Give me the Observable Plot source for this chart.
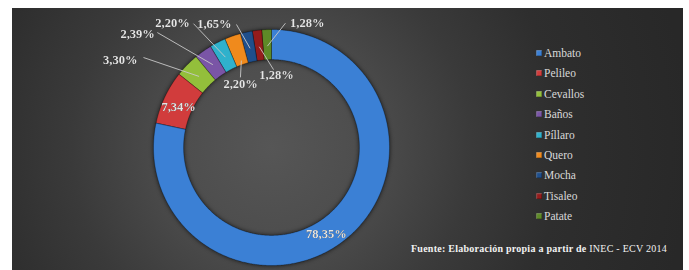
<!DOCTYPE html>
<html>
<head>
<meta charset="utf-8">
<script src="https://cdn.jsdelivr.net/npm/d3@7"></script>
<script src="https://cdn.jsdelivr.net/npm/@observablehq/plot@0.6"></script>
<style>
  html, body { margin: 0; padding: 0; background: #ffffff; }
  #wrap { position: relative; width: 689px; height: 270px; overflow: hidden; background: #fff; }
  #panel { position: absolute; left: 12px; top: 8px; width: 671px; height: 262px;
    background: radial-gradient(circle at 259px 139px, #565656 0px, #4c4c4c 105px, #3a3a3a 200px, #2e2e2e 290px, #282828 420px); }
  #chart { position: absolute; left: 0; top: 0; }
  #legend { position: absolute; left: 536px; top: 0; font-family: "Liberation Serif", serif; font-size: 11.5px; color: #d9d9d9; }
  .item { position: absolute; left: 0; white-space: nowrap; height: 14px; line-height: 14px; }
  .sw { position: absolute; left: 0; top: 4px; width: 6px; height: 6px; box-shadow: inset 0 0 0 0.6px rgba(0,0,0,0.45), inset 1px 1px 1px rgba(255,255,255,0.35); }
  .lb { position: absolute; left: 8px; top: 0; }
  #caption { position: absolute; right: 22px; top: 243px; font-family: "Liberation Serif", serif; font-size: 10px; color: #f2f2f2; white-space: nowrap; letter-spacing: 0.25px; }
</style>
</head>
<body>
<div id="wrap">
  <div id="panel"></div>
  <div id="chart"></div>
  <div id="legend"></div>
  <div id="caption"><b>Fuente: Elaboración propia a partir de</b> INEC - ECV 2014</div>
</div>
<script>
// ---- data ----
const categories = ["Ambato", "Pelileo", "Cevallos", "Baños", "Píllaro", "Quero", "Mocha", "Tisaleo", "Patate"];
const values = [78.35, 7.34, 3.30, 2.39, 2.20, 2.20, 1.65, 1.28, 1.28];
const labels = ["78,35%", "7,34%", "3,30%", "2,39%", "2,20%", "2,20%", "1,65%", "1,28%", "1,28%"];
const colors = ["#3b80d5", "#d13c3c", "#93bf3b", "#7a55a6", "#2fb1cc", "#f08a1c", "#1f4f8c", "#951c1c", "#5e8a27"];

// ---- layout (label placement, polar: degrees clockwise from 12 o'clock, radius in outer radii) ----
const labelPolar = [[147.7, 0.87], [293.8, 0.86], [300, 1.48], [310.4, 1.49], [321.6, 1.35], [334.2, 0.60], [335.1, 1.15], [3.9, 0.62], [16, 1.10]];
const leaderFrom = [null, null, [305.1, 1.326], [315.2, 1.373], [327.8, 1.24], [336.1, 0.65], [344.1, 1.084], [1.5, 0.66], [6.4, 1.06]];
const leaderTipR = [null, null, 0.86, 0.86, 0.86, 0.78, 0.86, 0.86, 0.86];

const W = 689, H = 270, R = 118, CX = 271, CY = 147, INNER = 0.745;
const rad = d => d * Math.PI / 180;
const polar = (deg, r) => ({x: r * Math.sin(rad(deg)), y: r * Math.cos(rad(deg))});

// slices via d3.pie (clockwise from top, data order)
const pie = d3.pie().sort(null).value(d => d.value)(categories.map((name, i) => ({name, value: values[i], i})));
const slicePts = [];
for (const a of pie) {
  const a0 = a.startAngle * 180 / Math.PI, a1 = a.endAngle * 180 / Math.PI;
  const n = Math.max(4, Math.ceil((a1 - a0) / 0.5));
  for (let k = 0; k <= n; k++) { const t = a0 + (a1 - a0) * k / n; slicePts.push({name: a.data.name, ...polar(t, 1)}); }
  for (let k = n; k >= 0; k--) { const t = a0 + (a1 - a0) * k / n; slicePts.push({name: a.data.name, ...polar(t, INNER)}); }
}
const midDeg = pie.map(a => (a.startAngle + a.endAngle) / 2 * 180 / Math.PI);

const labelData = categories.map((name, i) => ({name, text: labels[i], ...polar(labelPolar[i][0], labelPolar[i][1])}));
const leaderData = [];
categories.forEach((name, i) => {
  if (!leaderFrom[i]) return;
  const p = polar(leaderFrom[i][0], leaderFrom[i][1]);
  const q = polar(midDeg[i], leaderTipR[i]);
  leaderData.push({name, x1: p.x, y1: p.y, x2: q.x, y2: q.y});
});

const plot = Plot.plot({
  width: W, height: H,
  marginTop: 0, marginRight: 0, marginBottom: 0, marginLeft: 0,
  style: {background: "transparent", overflow: "visible"},
  x: {domain: [-CX / R, (W - CX) / R], range: [0, W], axis: null},
  y: {domain: [-(H - CY) / R, CY / R], range: [H, 0], axis: null},
  color: {domain: categories, range: colors},
  marks: [
    Plot.line(slicePts, {x: "x", y: "y", z: "name", fill: "name", stroke: "rgba(0,0,0,0.35)", strokeWidth: 0.8, curve: "linear-closed"}),
    Plot.link(leaderData, {x1: "x1", y1: "y1", x2: "x2", y2: "y2", stroke: "#c8c8c8", strokeWidth: 0.9}),
    Plot.text(labelData, {x: "x", y: "y", text: "text", fill: "#e6e6e6", fontWeight: "bold", fontSize: 12.5, fontFamily: "Liberation Serif, serif"})
  ]
});
const svg = d3.select(plot);
svg.select('g[aria-label="line"]').style("filter", "drop-shadow(0px 0px 2px rgba(0,0,0,0.7))");
svg.select('g[aria-label="text"]').style("filter", "drop-shadow(0.6px 0.6px 0.6px rgba(0,0,0,0.8))");
document.getElementById("chart").appendChild(plot);

// legend
const legend = d3.select("#legend");
categories.forEach((name, i) => {
  const it = legend.append("div").attr("class", "item").style("top", (46 + i * 20.4) + "px");
  it.append("div").attr("class", "sw").style("background", colors[i]);
  it.append("div").attr("class", "lb").text(name);
});
</script>
</body>
</html>
